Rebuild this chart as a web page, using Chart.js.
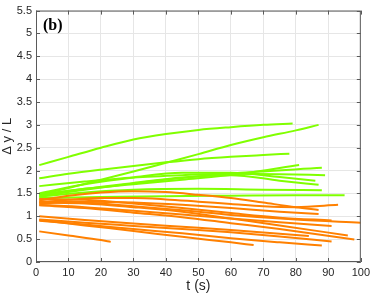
<!DOCTYPE html>
<html>
<head>
<meta charset="utf-8">
<script src="https://cdn.jsdelivr.net/npm/chart.js@4.4.1/dist/chart.umd.min.js"></script>
<style>
  html, body { margin: 0; padding: 0; background: #fff; }
  #wrap { width: 374px; height: 299px; }
</style>
</head>
<body>
<div id="wrap"><canvas id="chart"></canvas></div>
<script>
// each run is a list of [t (s), dy/L]
const greenRuns = [
  [[1,2.12],[10,2.3],[20,2.5],[30,2.68],[40,2.8],[50,2.89],[60,2.95],[70,3.0],[79,3.03]],
  [[1,1.47],[10,1.62],[20,1.8],[30,1.98],[40,2.17],[50,2.36],[60,2.56],[70,2.73],[80,2.88],[87,3.0]],
  [[1,1.83],[10,1.93],[20,2.02],[30,2.1],[40,2.18],[50,2.25],[60,2.3],[70,2.34],[78,2.37]],
  [[1,1.48],[15,1.6],[30,1.7],[45,1.8],[63,1.93],[81,2.12]],
  [[1,1.44],[15,1.58],[30,1.72],[45,1.84],[63,1.95],[88,2.06]],
  [[1,1.66],[15,1.76],[30,1.85],[45,1.9],[60,1.93],[75,1.92],[89,1.9]],
  [[1,1.5],[15,1.7],[30,1.85],[45,1.95],[60,1.95],[75,1.86],[86,1.78]],
  [[1,1.45],[15,1.6],[30,1.73],[45,1.85],[60,1.9],[75,1.78],[87,1.69]],
  [[1,1.43],[15,1.52],[30,1.58],[50,1.6],[70,1.58],[88,1.57]],
  [[1,1.4],[20,1.42],[40,1.44],[60,1.45],[80,1.46],[95,1.46]]
];
const orangeRuns = [
  [[1,1.35],[10,1.45],[20,1.52],[30,1.55],[40,1.53],[50,1.47],[60,1.4],[70,1.3],[80,1.2],[87,1.14]],
  [[1,1.3],[10,1.36],[20,1.4],[30,1.4],[40,1.37],[50,1.32],[60,1.27],[70,1.22],[80,1.2],[93,1.25]],
  [[1,1.28],[15,1.32],[30,1.3],[45,1.25],[60,1.18],[75,1.1],[87,1.05]],
  [[1,1.33],[15,1.3],[30,1.22],[45,1.13],[60,1.03],[80,0.93],[100,0.86]],
  [[1,1.38],[15,1.36],[30,1.28],[45,1.18],[60,1.07],[75,0.97],[91,0.91]],
  [[1,1.25],[15,1.2],[30,1.12],[45,1.04],[60,0.95],[75,0.87],[91,0.79]],
  [[1,1.3],[15,1.28],[30,1.2],[45,1.1],[60,0.95],[75,0.8],[96,0.58]],
  [[1,1.24],[15,1.18],[30,1.08],[45,0.98],[60,0.85],[75,0.72],[98,0.49]],
  [[1,1.0],[15,0.92],[30,0.84],[45,0.77],[60,0.7],[84,0.57]],
  [[1,0.93],[15,0.86],[30,0.79],[45,0.72],[60,0.65],[75,0.56],[91,0.45]],
  [[1,0.9],[15,0.82],[30,0.72],[45,0.63],[60,0.52],[75,0.43],[88,0.36]],
  [[1,0.92],[15,0.8],[30,0.68],[45,0.55],[60,0.43],[67,0.37]],
  [[1,0.67],[10,0.58],[20,0.48],[23,0.44]]
];
const xTicks = [0,10,20,30,40,50,60,70,80,90,100];
const yTicks = [0,0.5,1,1.5,2,2.5,3,3.5,4,4.5,5,5.5];
const panelLabel = '(b)';
const xTitle = 't (s)';
const yTitle = '\u0394 y / L';

const GREEN = '#80ff00';
const ORANGE = '#ff8000';
const AXIS = '#5a5a5a';

const toDataset = (run, color) => ({
  data: run.map(p => ({ x: p[0], y: p[1] })),
  borderColor: color,
  borderWidth: 2,
  pointRadius: 0,
  fill: false,
  cubicInterpolationMode: 'monotone'
});

// oranges first so they are painted on top
const datasets = [
  ...orangeRuns.map(r => toDataset(r, ORANGE)),
  ...greenRuns.map(r => toDataset(r, GREEN))
];

// MATLAB style box with inward ticks and the panel letter
const boxFrame = {
  id: 'boxFrame',
  afterDraw(chart) {
    const { ctx, chartArea: a, scales } = chart;
    ctx.save();
    ctx.strokeStyle = AXIS;
    ctx.lineWidth = 1;
    ctx.strokeRect(a.left + 0.5, a.top + 0.5, a.right - a.left - 1, a.bottom - a.top - 1);
    ctx.beginPath();
    xTicks.forEach(v => {
      const px = Math.round(scales.x.getPixelForValue(v)) + 0.5;
      ctx.moveTo(px, a.bottom); ctx.lineTo(px, a.bottom - 4);
      ctx.moveTo(px, a.top); ctx.lineTo(px, a.top + 4);
    });
    yTicks.forEach(v => {
      const py = Math.round(scales.y.getPixelForValue(v)) + 0.5;
      ctx.moveTo(a.left, py); ctx.lineTo(a.left + 4, py);
      ctx.moveTo(a.right, py); ctx.lineTo(a.right - 4, py);
    });
    ctx.stroke();
    ctx.fillStyle = '#000';
    ctx.font = 'bold 16px "Liberation Serif", serif';
    ctx.textBaseline = 'middle';
    ctx.fillText(panelLabel, a.left + 7, a.top + 15);
    ctx.restore();
  }
};

new Chart(document.getElementById('chart'), {
  type: 'line',
  data: { datasets },
  options: {
    responsive: true,
    maintainAspectRatio: false,
    animation: false,
    layout: { padding: { top: 4, right: 8, left: 0, bottom: 0 } },
    plugins: { legend: { display: false }, tooltip: { enabled: false } },
    scales: {
      x: {
        type: 'linear',
        min: 0, max: 100,
        afterBuildTicks: s => { s.ticks = xTicks.map(v => ({ value: v })); },
        afterFit: s => { s.height = 37; },
        grid: { color: '#e6e6e6', drawTicks: false },
        border: { display: false },
        ticks: {
          padding: 4,
          color: '#262626',
          maxRotation: 0,
          font: { family: '"Liberation Sans", Arial, sans-serif', size: 11 },
          callback: v => String(v)
        },
        title: {
          display: true,
          text: xTitle,
          color: '#262626',
          padding: { top: 2, bottom: 4 },
          font: { family: '"Liberation Sans", Arial, sans-serif', size: 14 }
        }
      },
      y: {
        type: 'linear',
        min: 0, max: 5.5,
        afterBuildTicks: s => { s.ticks = yTicks.map(v => ({ value: v })); },
        afterFit: s => { s.width = 36; },
        grid: { color: '#e6e6e6', drawTicks: false },
        border: { display: false },
        ticks: {
          padding: 4,
          color: '#262626',
          font: { family: '"Liberation Sans", Arial, sans-serif', size: 11 },
          callback: v => String(v)
        },
        title: {
          display: true,
          text: yTitle,
          color: '#262626',
          padding: { top: 0, bottom: 0 },
          font: { family: '"Liberation Sans", Arial, sans-serif', size: 13 }
        }
      }
    }
  },
  plugins: [boxFrame]
});
</script>
</body>
</html>
